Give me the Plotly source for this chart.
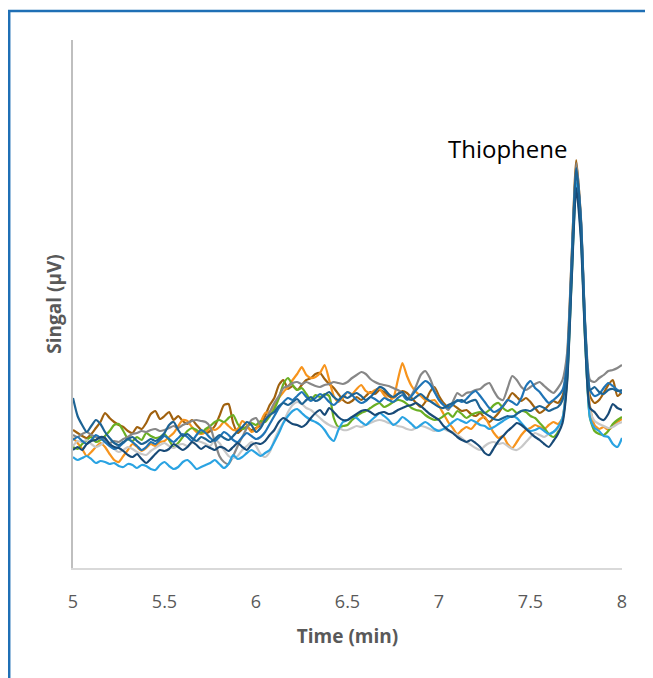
import plotly.graph_objects as go

# Time axis (min), sampled every 0.025 min from 5.0 to 8.0
time_min = [round(5 + 0.025 * i, 3) for i in range(121)]

brown = [138,135,132,130,134,140,146,155,150,146,
         143,141,137,135,141,139,145,154,157,149,
         152,156,148,152,147,144,148,143,138,135,
         137,142,152,163,164,145,135,139,141,138,
         140,143,152,163,170,183,188,179,182,178,
         183,188,190,194,195,189,184,180,174,168,
         165,167,171,168,172,176,174,178,176,172,
         170,174,177,175,170,165,161,166,176,181,
         172,165,161,163,160,157,158,154,152,155,
         150,146,150,155,162,168,175,171,167,170,
         166,160,155,158,163,167,165,
         172,208,310,408,350,235,172,165,168,175,183,188,172,176]

orange = [130,125,119,112,116,121,125,121,114,108,
          106,112,118,124,121,117,120,124,122,126,
          127,131,135,142,148,147,141,136,134,136,
          140,138,141,146,142,138,139,147,143,136,
          139,146,155,156,162,170,176,181,188,194,
          201,193,190,191,195,203,188,172,166,170,
          176,174,179,183,177,175,178,179,173,168,
          170,188,205,192,182,176,172,168,167,168,
          162,154,146,140,134,138,141,139,144,149,
          151,143,135,130,132,124,120,126,133,138,
          140,143,141,139,143,146,144,
          150,195,300,400,342,228,162,143,139,141,138,142,146,149]

green = [121,119,124,128,131,126,128,132,137,143,
         144,137,129,127,131,128,135,132,130,131,
         134,128,121,125,131,137,140,138,135,139,
         142,146,148,146,150,153,144,139,141,145,
         143,147,146,152,159,170,184,190,183,178,
         180,174,168,173,171,174,172,150,141,142,
         143,148,152,155,157,160,163,165,161,163,
         166,168,167,164,160,158,157,153,150,148,
         149,152,155,151,157,154,150,153,155,156,
         155,158,163,165,160,157,159,155,157,156,
         152,150,145,140,134,131,136,
         148,188,290,388,338,222,150,137,134,133,137,144,148,151]

gray = [133,131,134,136,133,131,129,128,125,127,
        126,129,131,134,135,137,136,138,139,137,
        138,140,142,140,143,145,147,148,147,146,
        141,126,112,106,104,112,122,131,140,148,
        150,143,148,156,165,172,180,182,185,186,
        184,186,184,182,181,183,184,186,185,184,
        186,190,193,196,194,189,186,184,183,182,
        180,178,175,170,173,182,193,197,190,178,
        168,163,158,166,175,172,175,176,178,179,
        183,185,177,170,168,180,192,188,181,178,
        181,184,186,182,178,175,180,
        188,215,312,405,352,240,188,186,190,193,197,198,200,203]

light_gray = [122,127,126,128,124,121,123,126,124,119,
              116,118,121,119,116,114,113,117,120,123,
              125,122,120,123,124,122,125,127,126,124,
              122,128,125,118,112,110,112,118,122,126,
              122,114,111,116,128,138,146,156,163,166,
              164,160,158,154,150,146,143,141,140,138,
              138,140,142,141,143,145,147,148,147,145,
              144,142,141,139,138,140,142,141,139,137,
              138,139,137,136,133,130,126,123,120,118,
              122,125,126,124,125,122,119,118,121,126,
              131,135,133,131,134,136,139,
              150,192,298,395,345,232,158,147,144,142,140,141,144,146]

light_blue = [111,108,110,112,109,105,107,106,104,105,
              102,101,104,103,100,103,102,99,98,103,
              106,102,99,101,106,108,104,99,101,103,
              105,108,104,100,104,113,109,111,115,118,
              115,112,115,118,126,135,145,152,157,159,
              155,151,148,146,143,138,131,127,138,146,
              148,151,150,146,143,147,151,155,152,148,
              143,146,151,148,144,140,143,146,143,139,
              137,139,142,146,149,147,145,148,146,143,
              142,139,141,144,147,150,152,150,145,140,
              137,138,140,137,134,136,141,
              150,190,292,385,335,225,150,140,137,132,131,124,121,130]

blue = [128,131,127,124,128,133,130,126,122,119,
        121,125,129,126,122,118,121,126,124,128,
        132,129,126,130,134,131,127,133,138,135,
        130,127,131,136,133,128,126,131,135,132,
        129,131,136,144,152,160,166,170,168,172,
        176,171,167,170,174,171,166,163,167,172,
        176,173,168,165,167,171,169,166,170,168,
        166,170,173,168,172,178,183,187,184,176,
        168,163,160,163,168,166,169,174,177,172,
        166,160,156,158,162,168,166,163,170,182,
        187,180,176,170,165,168,172,
        178,205,305,398,350,238,178,172,174,180,185,182,178,175]

navy = [118,121,118,124,127,128,131,130,124,121,
        120,117,113,111,114,109,105,109,114,118,
        117,119,124,121,118,121,126,123,119,122,
        120,118,121,120,117,121,125,121,118,123,
        125,124,127,133,138,146,150,147,144,143,
        141,144,150,155,158,153,160,156,151,148,
        148,151,154,157,158,156,153,155,156,154,
        155,158,160,162,163,165,162,158,154,151,
        148,142,138,135,131,128,126,128,125,121,
        115,113,120,127,132,137,141,145,143,139,
        135,131,128,124,121,127,134,
        145,185,288,380,330,222,160,156,150,148,154,164,160,158]

teal = [170,152,143,136,142,148,144,136,130,125,
        123,126,129,131,127,124,126,129,127,130,
        135,143,146,138,132,134,130,127,131,129,
        126,129,133,130,128,132,137,141,146,143,
        136,140,148,153,156,162,165,163,166,169,
        164,168,171,167,169,173,176,171,168,172,
        170,173,175,172,168,171,176,181,179,174,
        171,174,176,170,168,171,174,170,167,164,
        161,160,163,165,167,168,165,167,168,160,
        155,152,149,148,150,152,151,154,157,158,
        157,160,162,160,157,159,161,
        168,200,302,400,348,236,178,181,176,174,178,179,177,178]

x_ticks = [5, 5.5, 6, 6.5, 7, 7.5, 8]
x_tick_labels = ["5", "5.5", "6", "6.5", "7", "7.5", "8"]

series = [
    ("brown", brown, "#A0610E"),
    ("orange", orange, "#F7941D"),
    ("green", green, "#6AAF23"),
    ("gray", gray, "#878787"),
    ("light gray", light_gray, "#C8C8C8"),
    ("light blue", light_blue, "#2AA3E2"),
    ("blue", blue, "#1F74B6"),
    ("navy", navy, "#184A77"),
    ("teal", teal, "#1D6394"),
]

fig = go.Figure()
for name, vals, col in series:
    fig.add_trace(go.Scatter(
        x=time_min, y=vals, mode="lines", name=name,
        line=dict(color=col, width=2.2, shape="spline", smoothing=0.6),
        hoverinfo="x+y",
    ))

W, H = 645, 670
L, R, T, B = 65, 31, 32, 110
pw, ph = W - L - R, H - T - B

fig.update_layout(
    width=W, height=H,
    margin=dict(l=L, r=R, t=T, b=B),
    paper_bgcolor="white", plot_bgcolor="white",
    showlegend=False,
    font=dict(family="Open Sans", color="#595959"),
    xaxis=dict(
        range=[5, 8], tickvals=x_ticks, ticktext=x_tick_labels,
        showgrid=False, zeroline=False,
        showline=True, linecolor="#D9D9D9", linewidth=1.5,
        ticks="outside", ticklen=17, tickcolor="rgba(0,0,0,0)",
        tickfont=dict(size=18, color="#595959", family="Open Sans"),
        title=dict(text="<b>Time (min)</b>", standoff=17,
                   font=dict(size=19, color="#595959", family="Open Sans")),
    ),
    yaxis=dict(
        range=[0, 528], showticklabels=False, showgrid=False, zeroline=False,
        showline=True, linecolor="#BFBFBF", linewidth=2, ticks="",
        title=dict(text="<b>Singal (µV)</b>", standoff=4,
                   font=dict(size=19, color="#595959", family="Open Sans")),
    ),
    annotations=[dict(
        x=7.716, y=420, xref="x", yref="y", text="Thiophene", showarrow=False,
        xanchor="right", yanchor="middle",
        font=dict(size=24, color="black", family="Open Sans"),
    )],
    shapes=[dict(
        type="rect", xref="paper", yref="paper",
        x0=(1.2 - L) / pw, x1=1.3, y0=-0.4, y1=(H - B - 3) / ph,
        line=dict(color="#1F6FB5", width=2.5), fillcolor="rgba(0,0,0,0)",
        layer="above",
    )],
)

fig.write_html("out.html")
